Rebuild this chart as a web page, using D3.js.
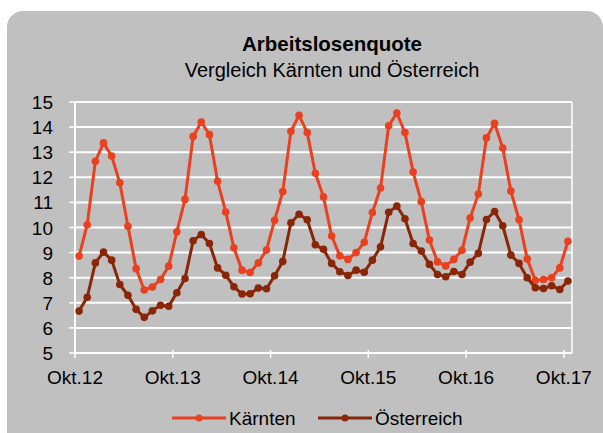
<!DOCTYPE html>
<html>
<head>
<meta charset="utf-8">
<script src="https://cdn.jsdelivr.net/npm/d3@7"></script>
<style>
  body { margin: 0; background: #fff; }
  text { font-family: "Liberation Sans", Arial, sans-serif; fill: #000; }
</style>
</head>
<body>
<div id="chart"></div>
<script>
const years = ['12', '13', '14', '15', '16', '17'];
// monthly values Okt.12 .. Okt.17
const kaernten = [
  8.86, 10.11, 12.64, 13.37, 12.85, 11.78, 10.05, 8.36, 7.51, 7.63, 7.93, 8.46,
  9.83, 11.12, 13.63, 14.20, 13.70, 11.84, 10.62, 9.19, 8.30, 8.21, 8.59, 9.10,
  10.29, 11.43, 13.83, 14.47, 13.78, 12.16, 11.22, 9.66, 8.87, 8.73, 9.00, 9.41,
  10.60, 11.57, 14.05, 14.56, 13.78, 12.21, 11.03, 9.50, 8.63, 8.47, 8.73, 9.09,
  10.38, 11.33, 13.57, 14.15, 13.17, 11.45, 10.31, 8.75, 7.90, 7.93, 8.00, 8.39,
  9.45
];
const oesterreich = [
  6.67, 7.22, 8.59, 9.02, 8.70, 7.73, 7.30, 6.74, 6.42, 6.68, 6.90, 6.86,
  7.40, 7.97, 9.47, 9.72, 9.36, 8.39, 8.10, 7.64, 7.35, 7.36, 7.59, 7.56,
  8.08, 8.65, 10.19, 10.53, 10.31, 9.31, 9.13, 8.57, 8.24, 8.09, 8.30, 8.22,
  8.70, 9.23, 10.61, 10.85, 10.35, 9.36, 9.06, 8.53, 8.13, 8.04, 8.25, 8.13,
  8.62, 8.97, 10.32, 10.64, 10.07, 8.90, 8.57, 8.00, 7.60, 7.57, 7.68, 7.53,
  7.87
];
const yTicks = [5, 6, 7, 8, 9, 10, 11, 12, 13, 14, 15];
const seriesNames = ['Kärnten', 'Österreich'];
const colors = ['#e9401f', '#8a2607'];

const width = 603;
const height = 433;
const margin = { left: 75, right: 31, top: 102, bottom: 80 };

const svg = d3.select('#chart')
  .append('svg')
  .attr('width', width)
  .attr('height', height);

// Grey rounded background
svg.append('rect')
  .attr('x', 7).attr('y', 11)
  .attr('width', 596).attr('height', 480)
  .attr('rx', 16)
  .attr('fill', '#c0c0c0');

svg.append('text')
  .attr('x', 332).attr('y', 51)
  .attr('text-anchor', 'middle')
  .style('font-size', '20.5px')
  .style('font-weight', 'bold')
  .text('Arbeitslosenquote');

svg.append('text')
  .attr('x', 332).attr('y', 77)
  .attr('text-anchor', 'middle')
  .style('font-size', '20px')
  .text('Vergleich Kärnten und Österreich');

const months = d3.range(kaernten.length);

const x = d3.scaleBand()
  .domain(months)
  .range([margin.left, width - margin.right]);

const y = d3.scaleLinear()
  .domain([5, 15])
  .range([height - margin.bottom, margin.top]);

const cx = i => x(i) + x.bandwidth() / 2;

// Gridlines
svg.append('g')
  .selectAll('line')
  .data(yTicks)
  .enter()
  .append('line')
  .attr('x1', margin.left)
  .attr('x2', width - margin.right)
  .attr('y1', d => y(d))
  .attr('y2', d => y(d))
  .attr('stroke', '#fff')
  .attr('stroke-width', 2);

// right edge line
svg.append('line')
  .attr('x1', width - margin.right).attr('x2', width - margin.right)
  .attr('y1', y(15)).attr('y2', y(5))
  .attr('stroke', '#fff').attr('stroke-width', 1.5);

// Y axis line and ticks
svg.append('line')
  .attr('x1', margin.left).attr('x2', margin.left)
  .attr('y1', y(15)).attr('y2', y(5))
  .attr('stroke', '#fff').attr('stroke-width', 2);
const yt = svg.append('g')
  .selectAll('g')
  .data(yTicks)
  .enter()
  .append('g')
  .attr('transform', d => `translate(${margin.left},${y(d)})`);
yt.append('line')
  .attr('x1', -6).attr('x2', 0)
  .attr('stroke', '#fff').attr('stroke-width', 1.5);
yt.append('text')
  .attr('x', -22)
  .attr('y', 7)
  .attr('text-anchor', 'end')
  .style('font-size', '19px')
  .text(d => d);

// X axis: ticks every 12 months at band start
const tickIdx = years.map((d, i) => i * 12);
const xAxis = svg.append('g')
  .attr('transform', `translate(0,${y(5)})`);
xAxis.append('line')
  .attr('x1', margin.left).attr('x2', width - margin.right)
  .attr('stroke', '#fff').attr('stroke-width', 2);
const xt = xAxis.selectAll('.tick')
  .data(tickIdx)
  .enter()
  .append('g')
  .attr('transform', d => `translate(${x(d)},0)`);
xt.append('line')
  .attr('y1', -3)
  .attr('y2', 5)
  .attr('stroke', '#fff').attr('stroke-width', 1.5);
xt.append('text')
  .attr('y', 31)
  .attr('text-anchor', 'middle')
  .style('font-size', '19px')
  .text((d, i) => `Okt.${years[i]}`);

// Lines
const line = d3.line()
  .x((d, i) => cx(i))
  .y(d => y(d));

[kaernten, oesterreich].forEach((data, s) => {
  svg.append('path')
    .datum(data)
    .attr('d', line)
    .attr('fill', 'none')
    .attr('stroke', colors[s])
    .attr('stroke-width', 3)
    .attr('stroke-linejoin', 'round');
  svg.append('g')
    .selectAll('circle')
    .data(data)
    .enter()
    .append('circle')
    .attr('cx', (d, i) => cx(i))
    .attr('cy', d => y(d))
    .attr('r', 3.8)
    .attr('fill', colors[s]);
});

// Legend
const legendX = [172, 318];
const legend = svg.selectAll('.legend')
  .data(seriesNames)
  .enter()
  .append('g')
  .attr('class', 'legend')
  .attr('transform', (d, i) => `translate(${legendX[i]}, 418)`);

legend.append('line')
  .attr('x1', 0).attr('x2', 54)
  .attr('stroke', (d, i) => colors[i])
  .attr('stroke-width', 3);
legend.append('circle')
  .attr('cx', 27).attr('r', 3.5)
  .attr('fill', (d, i) => colors[i]);
legend.append('text')
  .attr('x', 57)
  .attr('y', 7)
  .style('font-size', '19px')
  .text(d => d);
</script>
</body>
</html>
